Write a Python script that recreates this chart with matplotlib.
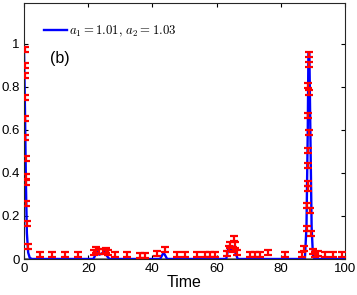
import matplotlib
matplotlib.use('Agg')
import matplotlib.pyplot as plt
import numpy as np

# blue curve (model response)
line_t = [0, 0.3, 0.6, 0.9, 1.3, 1.8, 2.5, 21.6, 22.3, 22.8, 23.4, 24.2, 25.0, 25.8, 26.6,
          42.4, 43.5, 44.6, 63.0, 63.8, 64.4, 65.0, 65.8, 66.6,
          87.5, 88.0, 88.4, 88.6, 88.9, 89.2, 89.6, 90.0, 90.5, 100]
line_y = [0.99, 0.70, 0.35, 0.12, 0.03, 0.005, 0, 0, 0.02, 0.045, 0.02, 0.025, 0.035, 0.015, 0,
          0, 0.03, 0, 0, 0.06, 0.04, 0.06, 0.03, 0,
          0, 0.15, 0.60, 0.96, 0.96, 0.60, 0.15, 0.02, 0, 0]

# red error bars (samples)
err_t = [0.2, 0.25, 0.3, 0.35, 0.4, 0.45, 0.55, 0.6, 0.62, 0.7, 0.85, 1.3,
         5.0, 8.6, 12.8, 16.8,
         21.8, 22.5, 23.3, 24.5, 25.5, 26.3,
         28.3, 32.0, 36.1, 37.6, 41.3, 43.9, 47.6, 50.2, 53.8,
         56.4, 57.9, 59.5,
         63.3, 63.8, 64.3, 65.0, 65.5, 65.8, 66.3,
         70.4, 72.0, 73.5, 76.0, 81.3, 86.6, 87.1,
         88.7, 88.7, 88.6, 88.7, 88.6, 88.7, 88.5, 88.6, 88.4, 88.6, 88.2, 89.2, 88.1, 89.4,
         90.0, 90.6, 91.6, 93.8, 96.3, 99.0]
err_y = [0.975, 0.898, 0.852, 0.751, 0.652, 0.566, 0.468, 0.381, 0.358, 0.259, 0.167, 0.057,
         0.02, 0.02, 0.02, 0.02,
         0.03, 0.042, 0.035, 0.035, 0.04, 0.03,
         0.02, 0.02, 0.017, 0.017, 0.025, 0.045, 0.022, 0.022, 0.02,
         0.022, 0.022, 0.022,
         0.025, 0.05, 0.065, 0.045, 0.097, 0.065, 0.03,
         0.02, 0.02, 0.022, 0.03, 0.02, 0.02, 0.05,
         0.952, 0.906, 0.806, 0.775, 0.667, 0.589, 0.505, 0.435, 0.350, 0.327, 0.25, 0.227, 0.142, 0.119,
         0.035, 0.022, 0.025, 0.022, 0.02, 0.02]
err_e = 0.012

plt.rcParams['font.family'] = ['Liberation Sans', 'DejaVu Sans']
plt.rcParams['mathtext.fontset'] = 'cm'

fig = plt.figure(figsize=(3.57, 2.95), dpi=100)
ax = fig.add_axes([0.0672, 0.122, 0.8992, 0.8678])

ax.plot([0, 100], [0, 0], color='#808080', lw=2.2, zorder=1)
ax.plot(line_t, line_y, color='#0000ff', lw=1.7, zorder=2,
        label=r'$a_1 = 1.01,\, a_2 = 1.03$')
ax.errorbar(err_t, err_y, yerr=err_e, fmt='none', ecolor='#ff0000',
            elinewidth=1.6, capsize=2.6, capthick=1.6, zorder=3)

ax.set_xlim(0, 100)
ax.set_ylim(0, 1.19)
ax.set_xticks([0, 20, 40, 60, 80, 100])
ax.set_yticks([0, 0.2, 0.4, 0.6, 0.8, 1])
ax.set_yticklabels(['0', '0.2', '0.4', '0.6', '0.8', '1'])
ax.tick_params(direction='in', top=True, right=True, length=3, width=0.8,
               labelsize=9.5, pad=3)
for s in ax.spines.values():
    s.set_linewidth(0.8)
    s.set_color('#262626')
ax.set_xlabel('Time', fontsize=11.5, labelpad=0)

ax.legend(loc='upper left', bbox_to_anchor=(0.025, 0.965), frameon=False, fontsize=9.2,
          handlelength=1.8, handletextpad=0.2)
ax.text(0.08, 0.765, '(b)', transform=ax.transAxes, fontsize=11.5)

fig.savefig('out.png', dpi=100)
